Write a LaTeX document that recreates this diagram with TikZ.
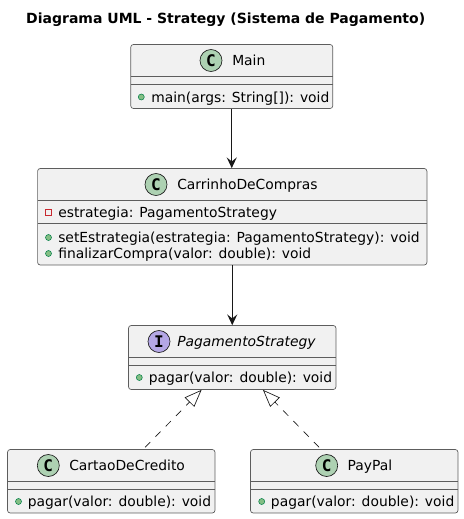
\documentclass[tikz,border=0pt]{standalone}
\usepackage{fontspec}
\setmainfont{DejaVu Sans}
\newfontfamily\badgefont{DejaVu Sans Mono}
\usetikzlibrary{arrows.meta}
\definecolor{boxfill}{HTML}{F1F1F1}
\definecolor{boxline}{HTML}{181818}
\definecolor{cgreen}{HTML}{ADD1B2}
\definecolor{ipurple}{HTML}{B4A7E5}
\definecolor{pubfill}{HTML}{84BE84}
\definecolor{publine}{HTML}{038048}
\definecolor{privline}{HTML}{C82930}
\tikzset{
  umlbox/.style={draw=boxline!70,line width=0.5pt,fill=boxfill,rounded corners=2pt,inner sep=0pt},
  sepline/.style={draw=boxline!70,line width=0.5pt},
  badgeC/.style={circle,draw=boxline,line width=0.5pt,fill=cgreen,minimum size=16.5pt,inner sep=0pt,font=\fontsize{12pt}{12pt}\badgefont\bfseries},
  badgeI/.style={badgeC,fill=ipurple},
  txt/.style={anchor=base west,inner sep=0pt,font=\fontsize{10.4pt}{12pt}\selectfont},
  itxt/.style={txt,font=\fontsize{10.4pt}{12pt}\selectfont\itshape},
  pubmark/.style={circle,draw=publine,line width=0.4pt,fill=pubfill,minimum size=4.5pt,inner sep=0pt},
  privmark/.style={rectangle,draw=privline,line width=0.75pt,fill=none,minimum size=4.5pt,inner sep=0pt},
  assoc/.style={draw=boxline,line width=0.7pt,-{Stealth[length=8pt,width=7.5pt,inset=3pt]}},
  realize/.style={draw=boxline,line width=0.5pt,dash pattern=on 5.5pt off 5.5pt,dash phase=-2pt,-{Triangle[open,length=13pt,width=10pt,fill=none]}}
}
\begin{document}
\begin{tikzpicture}[x=0.75pt,y=-0.75pt]
\useasboundingbox (0,0) rectangle (464,519);
\node[anchor=base,inner sep=0pt,font=\fontsize{10.5pt}{12pt}\selectfont\bfseries] (title) at (225.7,23) {Diagrama UML - Strategy (Sistema de Pagamento)};

% Main
\node[umlbox,minimum width=151.5pt,minimum height=48pt] (main) at (231.75,76.5) {};
\draw[sepline] (130.5,76.5) -- (333,76.5) (130.5,84.5) -- (333,84.5);
\node[badgeC] (mainB) at (211,60.5) {C};
\node[txt] (mainT) at (232,65) {Main};
\node[pubmark] (mainM) at (141.3,97) {};
\node[txt] (mainF) at (151,102) {main(args: String[]): void};

% Carrinho
\node[umlbox,minimum width=292pt,minimum height=72.4pt] (cart) at (232.25,216.75) {};
\draw[sepline] (37.5,200.5) -- (427,200.5) (37.5,223.5) -- (427,223.5);
\node[badgeC] (cartB) at (156,184.5) {C};
\node[txt] (cartT) at (177,189) {CarrinhoDeCompras};
\node[privmark] (cartP) at (48.5,212.5) {};
\node[txt] (cartA) at (58,217) {estrategia: PagamentoStrategy};
\node[pubmark] (cartM1) at (48.5,237.5) {};
\node[txt] (cartF1) at (58,242) {setEstrategia(estrategia: PagamentoStrategy): void};
\node[pubmark] (cartM2) at (48.5,253.5) {};
\node[txt] (cartF2) at (58,258) {finalizarCompra(valor: double): void};

% Interface
\node[umlbox,minimum width=155.6pt,minimum height=48pt] (iface) at (232.25,357.5) {};
\draw[sepline] (128.5,357.5) -- (336,357.5) (128.5,365.5) -- (336,365.5);
\node[badgeI] (ifaceB) at (159,341.5) {I};
\node[itxt] (ifaceT) at (177,346) {PagamentoStrategy};
\node[pubmark] (ifaceM) at (139.3,377.5) {};
\node[txt] (ifaceF) at (148.5,382.5) {pagar(valor: double): void};

% CartaoDeCredito
\node[umlbox,minimum width=155.6pt,minimum height=47.6pt] (card) at (111.25,481.25) {};
\draw[sepline] (7.5,481.5) -- (215,481.5) (7.5,489.5) -- (215,489.5);
\node[badgeC] (cardB) at (48.3,465.5) {C};
\node[txt] (cardT) at (69,470) {CartaoDeCredito};
\node[pubmark] (cardM) at (18.5,501.5) {};
\node[txt] (cardF) at (27.5,506.5) {pagar(valor: double): void};

% PayPal
\node[umlbox,minimum width=155.6pt,minimum height=47.6pt] (pay) at (354.25,481.25) {};
\draw[sepline] (250.5,481.5) -- (458,481.5) (250.5,489.5) -- (458,489.5);
\node[badgeC] (payB) at (326.7,465.5) {C};
\node[txt] (payT) at (347.3,470) {PayPal};
\node[pubmark] (payM) at (261.7,501.5) {};
\node[txt] (payF) at (270.7,506.5) {pagar(valor: double): void};

% connectors
\draw[assoc] (main.south) -- (main.south |- cart.north);
\draw[assoc] (cart.south) -- (iface.north);
\draw[realize] ([xshift=24pt]card.north) -- ([xshift=-23pt]iface.south);
\draw[realize] ([xshift=-25pt]pay.north) -- ([xshift=23pt]iface.south);
\end{tikzpicture}
\end{document}
